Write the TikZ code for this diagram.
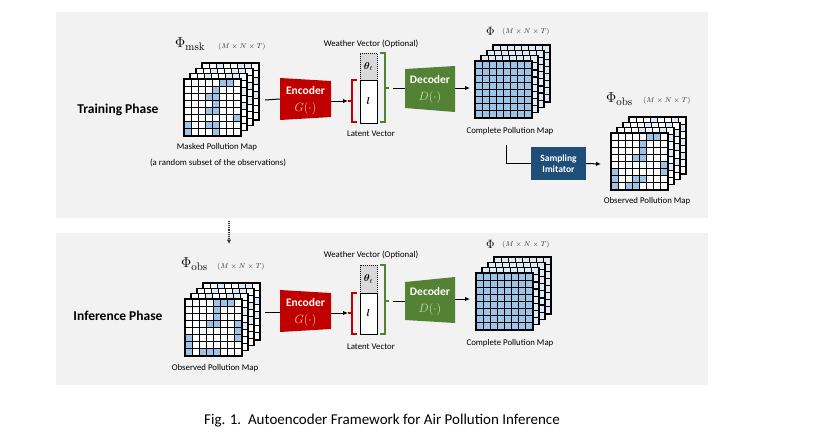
\documentclass[tikz,border=0pt]{standalone}
\usepackage{amsmath}
\usepackage[no-math]{fontspec}
\newfontfamily\calib{Carlito}
\usetikzlibrary{arrows.meta}
\definecolor{panel}{HTML}{F2F2F2}
\definecolor{encred}{HTML}{C00000}
\definecolor{decgreen}{HTML}{548235}
\definecolor{sampblue}{HTML}{1F4E79}
\definecolor{cellblue}{HTML}{9DC3E6}
\definecolor{cellpale}{HTML}{DEEBF7}
\definecolor{gorange}{HTML}{F8CBAD}
\definecolor{dgreen}{HTML}{C5E0B4}

% one grid layer: x, y, base fill, cell colour, cell list, line width
\newcommand{\gridlayer}[6]{%
  \fill[#3] (#1,#2) rectangle ++(57,57);
  \foreach \cc/\rr in {#5} {\fill[#4] ({#1+\cc*7.125},{#2+\rr*7.125}) rectangle ++(7.125,7.125);}
  \foreach \ii in {1,...,7} {\draw[line width=#6] ({#1+\ii*7.125},#2) -- ++(0,57);
                            \draw[line width=#6] (#1,{#2+\ii*7.125}) -- ++(57,0);}
  \draw[line width=1.5pt] (#1,#2) rectangle ++(57,57);
}
% a stack of four layers: x, y, back base, back list, front base, front list, line width, back cell colour, front cell colour
\newcommand{\mapstack}[9]{%
  \gridlayer{#1+18}{#2-16}{#3}{#8}{#4}{#7}
  \gridlayer{#1+12}{#2-10.67}{#3}{#8}{#4}{#7}
  \gridlayer{#1+6}{#2-5.33}{#3}{#8}{#4}{#7}
  \gridlayer{#1}{#2}{#5}{#9}{#6}{#7}
}
\newcommand{\phisub}[1]{{\fontsize{15}{15}\selectfont$\Phi$}\raisebox{-3pt}{\fontsize{11}{11}\selectfont$\mathrm{#1}$}}

\begin{document}
\begin{tikzpicture}[x=1pt,y=-1pt,
  phase/.style={font=\calib\bfseries\fontsize{13.5}{15}\selectfont, inner sep=0},
  lbl/.style={font=\calib\fontsize{8.8}{10}\selectfont, inner sep=0},
  dimlbl/.style={font=\fontsize{7}{8}\selectfont, inner sep=0, anchor=west, text=black!80},
  philbl/.style={inner sep=0, anchor=west},
  boxtext/.style={inner sep=0, align=center, text=white, font=\calib\bfseries\fontsize{11.5}{13}\selectfont},
  conn/.style={line width=1pt, black},
  arr/.style={line width=1pt, black, -{Latex[length=5pt,width=4.5pt]}},
  latbox/.style={draw, line width=1pt, fill=white, minimum width=17pt, inner sep=0},
  thbox/.style={draw, densely dotted, line width=1pt, fill=black!15, minimum width=17pt, inner sep=0},
  redbr/.style={encred, line width=1.3pt},
  greenbr/.style={decgreen, line width=1.3pt}
]
\useasboundingbox (0,0) rectangle (821,445);

% panels
\fill[panel] (56,12) rectangle (708,218);
\fill[panel] (56,233) rectangle (708,385);

% ================= TRAINING =================
\node[phase] (tp) at (118,110) {Training Phase};

% masked map
\node[philbl] (lmsk) at (175,44) {\phisub{msk}};
\node[dimlbl] (dmsk) at (218,47) {$(M\times N\times T)$};
\mapstack{184}{79}{white}{2/0,5/0,7/2,7/4,6/0}{white}{5/0,6/0,4/1,3/2,4/2,4/3,3/4,4/4,7/5,0/6,3/6,4/6,0/7,4/7}{0.9pt}{cellpale}{cellblue}
\node[lbl] (cmsk) at (217,147) {Masked Pollution Map};
\node[lbl] (cmsk2) at (218,163) {(a random subset of the observations)};
\coordinate (mskR) at (265,100);

% encoder
\node[minimum width=51pt, minimum height=42pt, inner sep=0] (enc) at (305.5,99) {};
\fill[encred] (280,78) -- (331,81) -- (331,117) -- (280,120) -- cycle;
\node[boxtext] at (305.5,91) {Encoder};
\node[inner sep=0, text=gorange, font=\fontsize{11.5}{13}\selectfont] at (305.5,108) {$G(\cdot)$};

% latent + weather
\node[lbl] (wv) at (371,44) {Weather Vector (Optional)};
\node[thbox, minimum height=27pt] (th) at (368.5,66.5) {$\boldsymbol{\theta}_t$};
\node[latbox, minimum height=43pt] (lat) at (368.5,101.5) {$\boldsymbol{l}$};
\node[lbl] (lv) at (371,134) {Latent Vector};
\draw[redbr] (357,80) -- (352,80) -- (352,122) -- (357,122);
\draw[redbr] (352,101) -- (348,101);
\coordinate (rb) at (348,101);
\draw[greenbr] (380,53) -- (385,53) -- (385,122) -- (380,122);
\draw[greenbr] (385,88) -- (389,88);
\coordinate (gb) at (393,88);

% decoder
\node[minimum width=50pt, minimum height=40pt, inner sep=0] (dec) at (430,88.5) {};
\fill[decgreen] (405,69) -- (455,66) -- (455,112) -- (405,108) -- cycle;
\node[boxtext] at (430,80) {Decoder};
\node[inner sep=0, text=dgreen, font=\fontsize{11.5}{13}\selectfont] at (430,97) {$D(\cdot)$};

% complete map
\node[philbl] (lphi) at (486,31) {{\fontsize{13}{13}\selectfont$\Phi$}};
\node[dimlbl] (dphi) at (502,32) {$(M\times N\times T)$};
\mapstack{475}{61}{cellpale}{0/0}{cellblue}{0/0}{1.2pt}{cellpale}{cellblue}
\node[lbl] (ccmp) at (510,131) {Complete Pollution Map};
\coordinate (cmpL) at (470,88);
\coordinate (sampS) at (506,145);

% sampling imitator
\node[fill=sampblue, minimum width=55pt, minimum height=33pt, inner sep=0, align=center, text=white,
      font=\calib\bfseries\fontsize{9.5}{11.5}\selectfont] (samp) at (558.5,163.5) {Sampling\\Imitator};

% observed map
\node[philbl] (lobs) at (606,99) {\phisub{obs}};
\node[dimlbl] (dobs) at (643,101) {$(M\times N\times T)$};
\mapstack{611}{133}{white}{3/0,6/0,7/1,7/3,7/5}{white}{5/0,6/0,4/1,4/2,3/3,4/3,7/4,0/5,7/5,0/6,3/6,4/6,0/7,2/7,3/7}{0.9pt}{cellpale}{cellblue}
\node[lbl] (cobs) at (647,201) {Observed Pollution Map};
\coordinate (obsL) at (601,164);

% connectors (training)
\draw[conn] (mskR) -- (enc.west);
\draw[arr] (enc.east |- rb) -- (rb);
\draw[conn] (gb) -- (dec.west |- gb);
\draw[arr] (dec.east |- cmpL) -- (cmpL);
\draw[conn] (sampS) |- (samp.west);
\draw[arr] (samp.east) -- (obsL);

% dotted link between phases
\coordinate (dotS) at (229,221);
\coordinate (dotE) at (229,244);
\draw[line width=1.1pt, densely dotted, black!80, -{Latex[length=4.5pt,width=4.5pt]}] (dotS) -- (dotE);

% ================= INFERENCE =================
\node[phase] (ip) at (118,316) {Inference Phase};

\node[philbl] (lobs2) at (181,264) {\phisub{obs}};
\node[dimlbl] (dobs2) at (217,267) {$(M\times N\times T)$};
\mapstack{185}{299}{white}{2/0,5/0,7/2,7/4,6/0}{white}{4/0,5/0,6/0,4/1,4/2,3/3,4/3,7/3,7/4,0/5,7/5,0/6,0/7,2/7,3/7,4/7}{0.9pt}{cellpale}{cellblue}
\node[lbl] (cobs2) at (215,368) {Observed Pollution Map};
\coordinate (obs2R) at (265,312);

\node[minimum width=51pt, minimum height=42pt, inner sep=0] (enc2) at (305.5,311) {};
\fill[encred] (280,290) -- (331,293) -- (331,329) -- (280,332) -- cycle;
\node[boxtext] at (305.5,303) {Encoder};
\node[inner sep=0, text=gorange, font=\fontsize{11.5}{13}\selectfont] at (305.5,320) {$G(\cdot)$};

\node[lbl] (wv2) at (371,255) {Weather Vector (Optional)};
\node[thbox, minimum height=28pt] (th2) at (368.5,279) {$\boldsymbol{\theta}_t$};
\node[latbox, minimum height=41pt] (lat2) at (368.5,313.5) {$\boldsymbol{l}$};
\node[lbl] (lv2) at (371,347) {Latent Vector};
\draw[redbr] (357,293) -- (352,293) -- (352,334) -- (357,334);
\draw[redbr] (352,313) -- (348,313);
\coordinate (rb2) at (348,313);
\draw[greenbr] (380,265) -- (385,265) -- (385,334) -- (380,334);
\draw[greenbr] (385,301) -- (389,301);
\coordinate (gb2) at (393,301);

\node[minimum width=50pt, minimum height=40pt, inner sep=0] (dec2) at (430,300) {};
\fill[decgreen] (405,282) -- (455,277) -- (455,323) -- (405,320) -- cycle;
\node[boxtext] at (430,292) {Decoder};
\node[inner sep=0, text=dgreen, font=\fontsize{11.5}{13}\selectfont] at (430,309) {$D(\cdot)$};

\node[philbl] (lphi2) at (486,244) {{\fontsize{13}{13}\selectfont$\Phi$}};
\node[dimlbl] (dphi2) at (502,245) {$(M\times N\times T)$};
\mapstack{476}{273}{cellpale}{0/0}{cellblue}{0/0}{1.2pt}{cellpale}{cellblue}
\node[lbl] (ccmp2) at (510,343) {Complete Pollution Map};
\coordinate (cmpL2) at (470,299);

\draw[conn] (obs2R) -- (enc2.west |- obs2R);
\draw[arr] (enc2.east |- rb2) -- (rb2);
\draw[conn] (gb2) -- (dec2.west |- gb2);
\draw[arr] (dec2.east |- cmpL2) -- (cmpL2);

% caption
\node[inner sep=0, font=\calib\fontsize{15}{18}\selectfont] (cap) at (382,421) {Fig. 1.\ \ Autoencoder Framework for Air Pollution Inference};
\end{tikzpicture}
\end{document}
